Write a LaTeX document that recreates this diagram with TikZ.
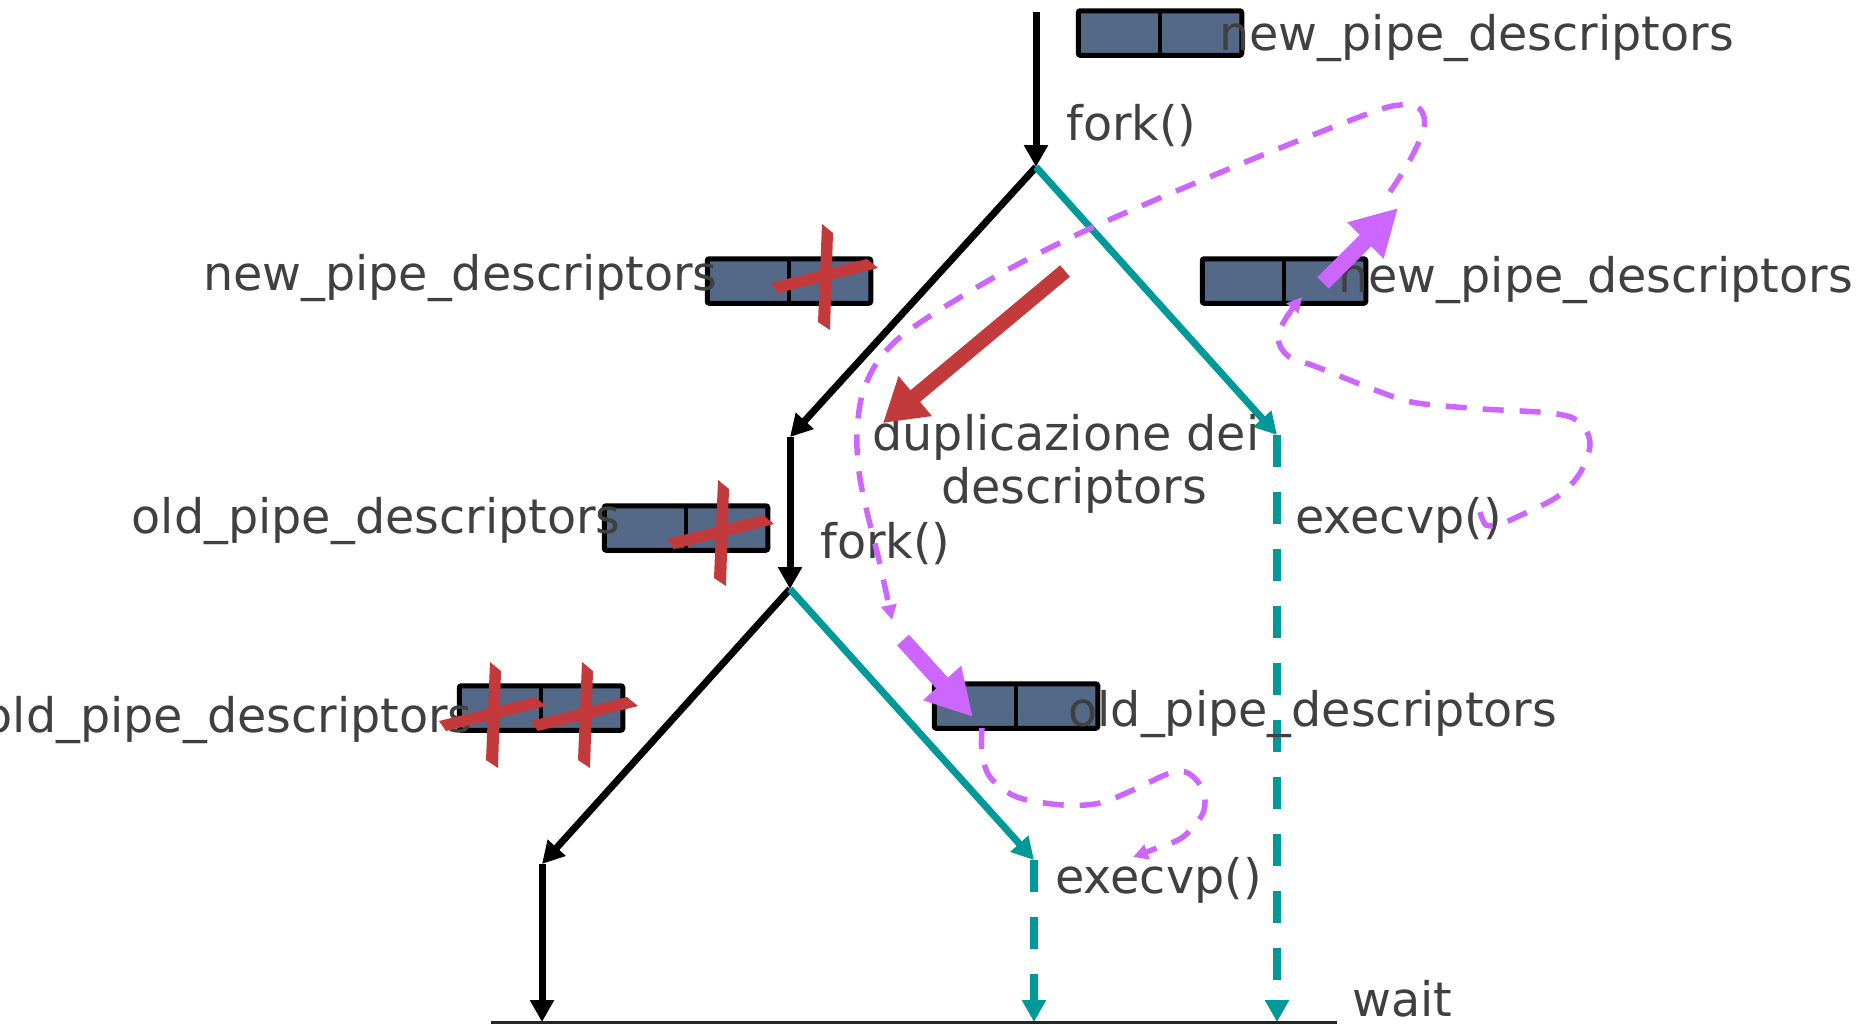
\documentclass[tikz,border=0pt]{standalone}
\usepackage{fontspec}
\setmainfont{DejaVu Sans}
\usetikzlibrary{arrows.meta}
\definecolor{tealc}{RGB}{0,153,153}
\definecolor{lilac}{RGB}{204,102,255}
\definecolor{xred}{RGB}{194,58,60}
\definecolor{boxblue}{RGB}{84,104,136}
\definecolor{ink}{RGB}{64,64,64}
\tikzset{
  lbl/.style={text=ink, inner sep=0pt, font=\fontsize{23.8pt}{28pt}\selectfont},
  pipebox/.style={draw=black, line width=2.5pt, fill=boxblue, rounded corners=1pt,
    minimum width=81.75pt, minimum height=22.25pt, inner sep=0pt,
    path picture={\draw[line width=2pt] (path picture bounding box.north) -- (path picture bounding box.south);}},
  blk/.style={black, line width=3.5pt, -{Triangle[length=11pt,width=11.5pt]}},
  tealline/.style={tealc, line width=3.5pt, -{Triangle[length=11pt,width=11.5pt]}},
  tealdash/.style={tealc, line width=4pt, dash pattern=on 16pt off 12.5pt, -{Triangle[length=11pt,width=11.5pt]}},
  lilacdash/.style={lilac, line width=2.75pt, dash pattern=on 10.5pt off 8pt, -{Triangle[length=7.5pt,width=7.5pt]}},
  fatred/.style={xred, line width=7.5pt, -{Triangle[length=21pt,width=24.5pt]}},
  fatlilac/.style={lilac, line width=8pt, -{Triangle[length=23pt,width=24pt]}},
  redx/.pic={
    \fill[xred] (-3,-53) -- (8,-44) -- (5,53) -- (-7,45) -- cycle;
    \fill[xred] (-54,6) -- (42,-18) -- (53,-9) -- (-47,16) -- cycle;
  }
}
\begin{document}
\begin{tikzpicture}[x=0.5pt, y=-0.5pt]
\path[use as bounding box] (0,0) rectangle (1874,1024);

% process tree points
\coordinate (top) at (1036,12);
\coordinate (f1) at (1036,167);
\coordinate (c1) at (790,437);
\coordinate (f2) at (790,589);
\coordinate (p1) at (1277,435);
\coordinate (c2) at (542,864);
\coordinate (p2) at (1034,860);
\coordinate (e0) at (542,1022);
\coordinate (e1) at (1034,1022);
\coordinate (e2) at (1277,1022);
\coordinate (wl) at (491,1022);
\coordinate (wr) at (1337,1022);

% pipe descriptor pairs
\node[pipebox] (bTop) at (1160,33) {};
\node[pipebox] (bUL) at (789,281) {};
\node[pipebox] (bUR) at (1284,281) {};
\node[pipebox] (bMid) at (686,528) {};
\node[pipebox] (bLR) at (1016,706) {};
\node[pipebox] (bLL) at (541,708) {};

% wait line
\draw[line width=1.5pt, black!85] (wl) -- (wr);

% parent and children
\draw[blk] (top) -- (f1);
\draw[blk] (f1) -- (c1);
\draw[blk] (c1) -- (f2);
\draw[blk] (f2) -- (c2);
\draw[blk] (c2) -- (e0);
\draw[tealline] (f1) -- (p1);
\draw[tealdash] (p1) -- (e2);
\draw[tealline] (f2) -- (p2);
\draw[tealdash] (p2) -- (e1);

% labels
\node[lbl, anchor=base west] (tTop) at (1219,50) {new\_pipe\_descriptors};
\node[lbl, anchor=base west] (fork1) at (1066,140) {fork()};
\node[lbl, anchor=base east] (tUL) at (718,290) {new\_pipe\_descriptors};
\node[lbl, anchor=base west] (tUR) at (1338,292) {new\_pipe\_descriptors};
\node[lbl, anchor=base west] (dupA) at (872,450) {duplicazione dei};
\node[lbl, anchor=base west] (dupB) at (941,503) {descriptors};
\node[lbl, anchor=base east] (tMid) at (621,533) {old\_pipe\_descriptors};
\node[lbl, anchor=base west] (fork2) at (820,558) {fork()};
\node[lbl, anchor=base west] (exec1) at (1295,533) {execvp()};
\node[lbl, anchor=base east] (tLL) at (473,732) {old\_pipe\_descriptors};
\node[lbl, anchor=base west] (tLR) at (1068,726) {old\_pipe\_descriptors};
\node[lbl, anchor=base west] (exec2) at (1055,893) {execvp()};
\node[lbl, anchor=base west] (waitlbl) at (1352,1016) {wait};

% closed descriptors
\pic at (825,277) {redx};
\pic at (721,533) {redx};
\pic at (493,715) {redx};
\pic at (585,715) {redx};

% duplication and hand-over arrows
\coordinate (rs) at (1065,271);
\coordinate (re) at (883,423);
\draw[fatred] (rs) -- (re);
\coordinate (ls1) at (1323,283);
\coordinate (le1) at (1398,208);
\draw[fatlilac] (ls1) -- (le1);
\coordinate (ls2) at (903,640);
\coordinate (le2) at (973,717);
\draw[fatlilac] (ls2) -- (le2);

% descriptor flow
\draw[lilacdash] plot[smooth, tension=0.55] coordinates {
  (1390,192) (1410,160) (1424,128) (1420,109) (1400,105) (1370,113)
  (1280,148) (1200,181) (1089,229) (1000,274) (915,326) (881,357)
  (863,392) (857,432) (859,472) (867,512) (879,560) (892,620)};
\draw[lilacdash] plot[smooth, tension=0.55] coordinates {
  (1480,512) (1486,525) (1500,524) (1517,517) (1557,497) (1580,473)
  (1590,443) (1578,421) (1550,413) (1483,409) (1417,403) (1383,393)
  (1317,367) (1288,356) (1278,338) (1286,318) (1302,297)};
\draw[lilacdash] plot[smooth, tension=0.55] coordinates {
  (982,728) (982,752) (990,777) (1017,797) (1063,805) (1100,803)
  (1133,790) (1170,773) (1188,773) (1203,790) (1203,813) (1183,837)
  (1157,848) (1133,857)};
\end{tikzpicture}
\end{document}
